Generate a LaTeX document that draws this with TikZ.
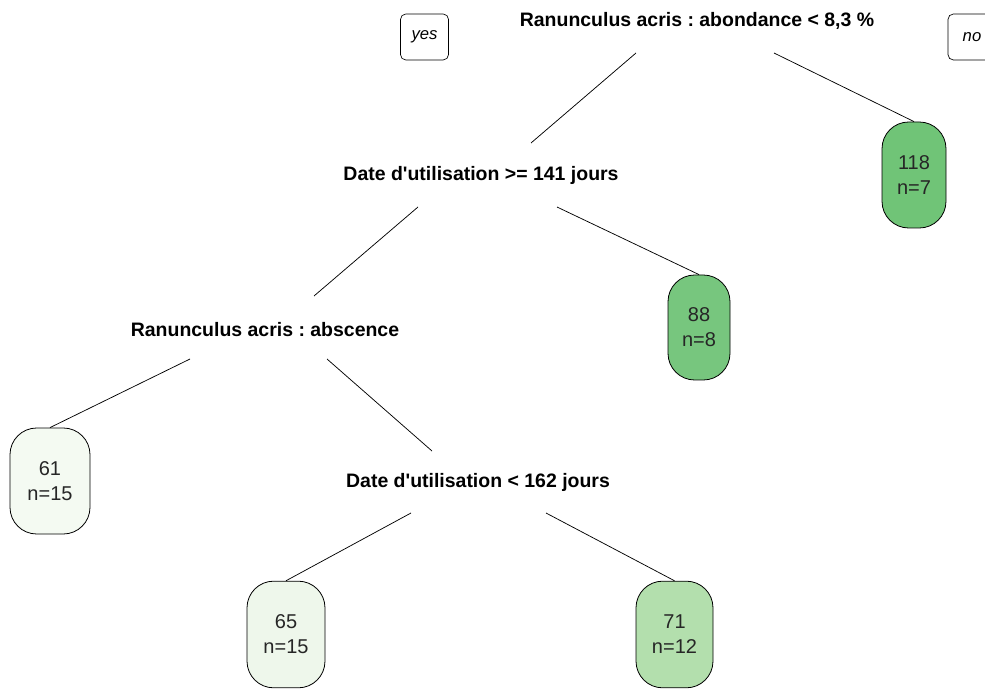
\documentclass[tikz,border=0pt]{standalone}
\usepackage{fontspec}
\setmainfont{Liberation Sans}
\frenchspacing
\definecolor{g118}{HTML}{70C477}
\definecolor{g88}{HTML}{77C67E}
\definecolor{g71}{HTML}{B3DFAD}
\definecolor{g65}{HTML}{EEF7EB}
\definecolor{g61}{HTML}{F4FAF2}
\begin{document}
\begin{tikzpicture}[x=0.75pt,y=-0.75pt,
  split/.style={font=\bfseries\fontsize{14.6}{16}\selectfont, inner sep=0pt},
  leaf/.style={draw=black, line width=0.6pt, rounded corners=20pt, align=center,
     font=\fontsize{15}{18.75}\selectfont, text=black!85, inner sep=0pt},
  side/.style={draw=black, line width=0.5pt, rounded corners=4pt, minimum width=36pt, minimum height=34.5pt,
     font=\itshape\fontsize{12.5}{14}\selectfont, inner sep=0pt},
  conn/.style={draw=black, line width=0.55pt}]
\useasboundingbox (0,0) rectangle (985,698);
\fill[white] (0,0) rectangle (985,698);
% side labels
\node[side] (yes) at (424.5,37) {yes};
\node[side] (no) at (972,37) {no};
% split labels
\node[split] (s1) at (697,21) {Ranunculus acris : abondance < 8,3 \%};
\node[split] (s2) at (481,175) {Date d\textquotesingle utilisation >= 141 jours};
\node[split] (s3) at (265,330) {Ranunculus acris : abscence};
\node[split] (s4) at (478,482) {Date d\textquotesingle utilisation < 162 jours};
% leaves
\node[leaf, fill=g118, minimum width=48pt, minimum height=79.5pt] (l118) at (914,175) {118\\n=7};
\node[leaf, fill=g88, minimum width=46.5pt, minimum height=78.75pt] (l88) at (699,327.5) {88\\n=8};
\node[leaf, fill=g61, minimum width=60pt, minimum height=79.5pt] (l61) at (50,481) {61\\n=15};
\node[leaf, fill=g65, minimum width=58.5pt, minimum height=80pt] (l65) at (286,634.5) {65\\n=15};
\node[leaf, fill=g71, minimum width=57.75pt, minimum height=80pt] (l71) at (674.5,634.5) {71\\n=12};
% connector coordinates
\coordinate (a1) at (636,53);
\coordinate (b1) at (531,143);
\coordinate (c1) at (774,53);
\coordinate (a2) at (418,207);
\coordinate (b2) at (314,296);
\coordinate (c2) at (557,207);
\coordinate (a3) at (190,359);
\coordinate (c3) at (327,359);
\coordinate (b3) at (432,451);
\coordinate (a4) at (411,513);
\coordinate (c4) at (546,513);
% connectors
\draw[conn] (a1) -- (b1);
\draw[conn] (c1) -- (l118.north);
\draw[conn] (a2) -- (b2);
\draw[conn] (c2) -- (l88.north);
\draw[conn] (a3) -- (l61.north);
\draw[conn] (c3) -- (b3);
\draw[conn] (a4) -- (l65.north);
\draw[conn] (c4) -- (l71.north);
\end{tikzpicture}
\end{document}
